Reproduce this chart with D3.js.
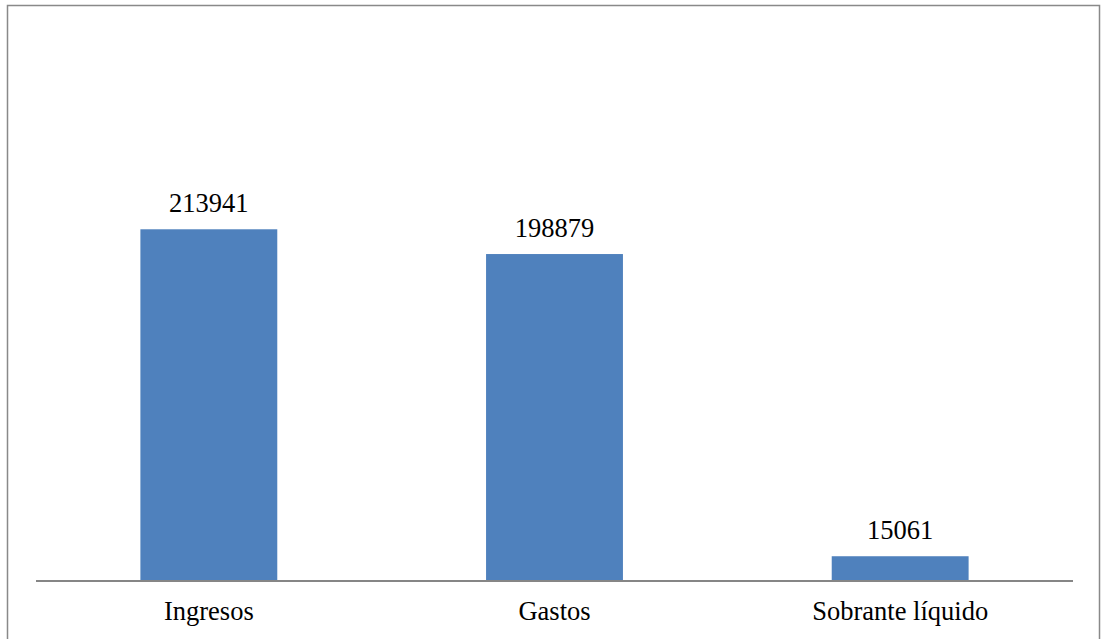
<!DOCTYPE html>
<html><head><meta charset="utf-8">
<script src="https://cdn.jsdelivr.net/npm/d3@7"></script>
<style>html,body{margin:0;padding:0;background:#fff;overflow:hidden}
svg text{font-family:"Liberation Serif","Times New Roman",Times,serif;}</style>
</head><body>
<svg id="c" width="1104" height="639"></svg>
<script>
const categories = ["Ingresos", "Gastos", "Sobrante líquido"];
const values = [213941, 198879, 15061];

const svg = d3.select("#c");
// chart border
svg.append("rect").attr("x", 7.5).attr("y", 5.5).attr("width", 1092).attr("height", 650)
  .attr("fill", "#fff").attr("stroke", "#898989").attr("stroke-width", 1.5);

const plot = {left: 36, right: 1073, bottom: 581, top: 170};
const x = d3.scaleBand().domain(categories).range([plot.left, plot.right]).padding(0);
const y = d3.scaleLinear().domain([0, 250000]).range([plot.bottom, plot.top]);
const barW = x.bandwidth() * 0.396;

const g = svg.append("g");
g.selectAll("rect.bar").data(values).enter().append("rect")
  .attr("class", "bar")
  .attr("x", (d, i) => x(categories[i]) + x.bandwidth() / 2 - barW / 2)
  .attr("width", barW)
  .attr("y", d => y(d))
  .attr("height", d => y(0) - y(d))
  .attr("fill", "#4F81BD");

g.selectAll("text.val").data(values).enter().append("text")
  .attr("x", (d, i) => x(categories[i]) + x.bandwidth() / 2)
  .attr("y", d => y(d) - 17)
  .attr("text-anchor", "middle")
  .style("font-size", "26.5px").attr("fill", "#000")
  .text(d => d);

const axis = d3.axisBottom(x).tickSize(0).tickPadding(0);
const ax = svg.append("g").attr("transform", `translate(0,${plot.bottom})`).call(axis);
ax.attr("font-family", null).attr("font-size", null);
ax.select(".domain").attr("stroke", "#868686").attr("stroke-width", 2).attr("d", `M${plot.left},0H${plot.right}`);
ax.selectAll(".tick text").style("font-size", "26.5px").attr("fill", "#000")
  .attr("dy", null).attr("y", 39);
</script>
</body></html>
